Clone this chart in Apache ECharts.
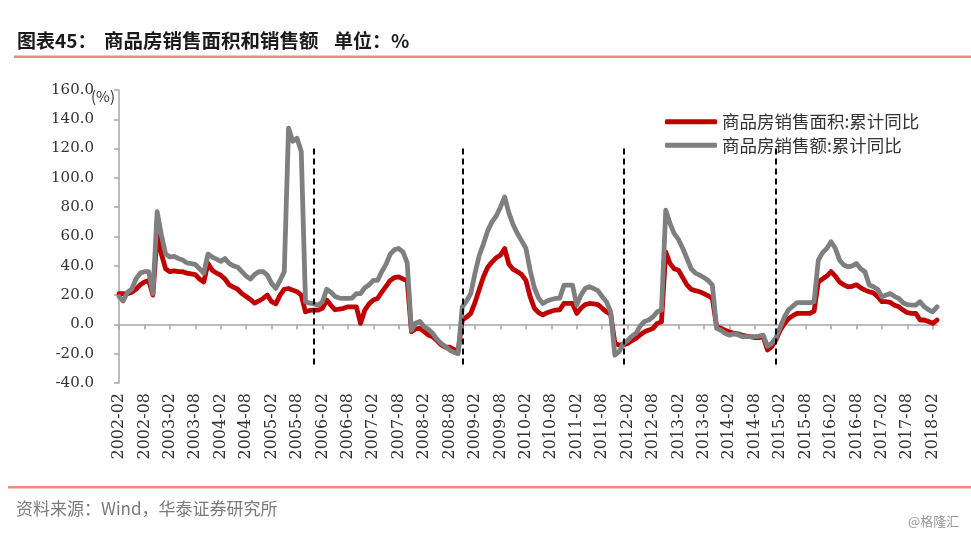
<!DOCTYPE html>
<html>
<head>
<meta charset="utf-8">
<script src="https://cdn.jsdelivr.net/npm/echarts@6/dist/echarts.min.js"></script>
<style>html,body{margin:0;padding:0;background:#fff}#c{width:971px;height:534px}</style>
</head>
<body>
<div id="c"></div>
<script>
// Categories: monthly from 2002-02 to 2018-03
const startYear = 2002, startMonth = 2, endYear = 2018, endMonth = 3;
const categories = [];
for (let y = startYear, m = startMonth; y < endYear || (y === endYear && m <= endMonth); ) {
  categories.push(y + '-' + (m < 10 ? '0' + m : '' + m));
  m++; if (m > 12) { m = 1; y++; }
}

// 商品房销售面积:累计同比 (%)
const areaYoY = [
  21, 21, 21, 22, 24, 27, 29, 30, 20, 61, 48,
  38, 36, 36.5, 36, 36, 35, 34.5, 34, 31, 29, 41.6, 37,
  35, 33.6, 31, 27, 25.5, 24, 21, 19, 17, 14.5, 16, 17.7,
  20, 15.5, 14, 20, 24, 24.5, 23.4, 22.3, 20, 8.6, 9.5, 9.8,
  9.8, 11, 16.6, 13, 10, 10.5, 11, 12, 12, 12, 0.7, 9.8,
  14, 16.6, 17.7, 22, 26, 30, 32, 32.5, 31, 30, -5, -3,
  -2.7, -5, -7.3, -8.4, -11, -14, -15.5, -15.5, -17, -18.6, 3, 5,
  7.5, 15, 24, 32.5, 39, 42.5, 45.5, 47.3, 51.8, 41, 37.5, 36,
  34, 30, 19, 11, 8, 6.4, 8, 9, 9.8, 10, 14.3, 14.3,
  14.3, 7.5, 11, 13.5, 14.3, 14, 13.5, 11, 8.6, 7, -13, -14,
  -14, -13, -11, -9.5, -7, -5, -3.9, -2.7, 0.7, 1.8, 49.5, 41.6,
  38, 37, 32, 27, 24, 23, 22.3, 21, 19.5, 17.7, -1.6, -2.5,
  -4, -5, -6, -6.5, -7.3, -8, -8.4, -9, -9, -8.4, -17.5, -15.2,
  -10.5, -4, 0.5, 4, 6, 7.5, 7.5, 7.5, 7.5, 9, 29, 31,
  33, 36, 33, 29, 27, 25.7, 26, 27, 25, 23.4, 22.3, 21.5,
  19, 15.5, 15.5, 15, 13, 12, 9.8, 8, 7.5, 7.5, 3, 3,
  2, 0.7, 3
];

// 商品房销售额:累计同比 (%)
const amountYoY = [
  19, 16, 22, 24, 31, 35, 36, 36, 21, 77, 61,
  48, 46, 46.5, 45, 44, 42, 41.5, 41, 38, 35, 48, 46,
  44.5, 43, 45, 41.6, 40, 39, 36, 33, 31, 34, 36, 36,
  33.6, 28, 24.5, 30, 36, 134, 125, 127, 118, 15.5, 14.5, 14,
  13, 15.5, 24, 22, 19, 18, 17.7, 17.7, 18, 21, 21, 25,
  27, 30, 30, 36, 41, 48, 51, 51.8, 49.5, 42, -4, 1,
  2, -1.6, -3.4, -6, -10, -13, -15, -17.5, -19, -20, 12, 16,
  21, 35, 47, 55, 64, 70, 74, 80, 87, 76, 68, 62,
  57, 52, 37, 25, 18, 14.3, 16, 17, 17.7, 18, 26.8, 26.8,
  26.8, 13.2, 20, 24.5, 25.7, 24.5, 23, 19, 15.5, 8.6, -21, -18.6,
  -13, -11, -8, -6, -1, 2, 3, 5.2, 8.6, 9.8, 78, 69,
  62, 58, 52, 45, 38, 35, 33.6, 32, 30, 26.8, -2.7, -4,
  -6, -7.3, -6.5, -7, -8.4, -8.4, -8.4, -8.4, -8, -7.3, -15, -13,
  -9, -2, 5, 10, 12.5, 14.8, 14.8, 14.8, 14.8, 15.5, 43.9, 49,
  51.8, 56.4, 52, 44, 40.5, 39.3, 40, 41.6, 38, 36, 27, 25.7,
  24, 18.9, 20, 21, 19, 17.7, 14.8, 13.5, 13.2, 13.2, 15.5, 12,
  10, 8.6, 12
];

// dashed divider positions (category) and their vertical extent (value)
const dividers = ['2005-12', '2008-11', '2012-01', '2015-01'];
const dividerRange = [120, -28];

const seriesNames = ['商品房销售面积:累计同比', '商品房销售额:累计同比'];
const yTicks = { min: -40, max: 160, interval: 20 };

const chart = echarts.init(document.getElementById('c'), null, { renderer: 'canvas' });
const serif = 'DejaVu Serif';
const cjk = '"Noto Sans CJK SC", "Noto Sans", sans-serif';
const axisGray = '#A6A6A6';

chart.setOption({
  animation: false,
  backgroundColor: '#ffffff',
  grid: { left: 119, right: 34, top: 90, bottom: 151, containLabel: false },
  legend: {
    data: seriesNames,
    orient: 'vertical',
    left: 660,
    top: 108,
    itemWidth: 52,
    itemHeight: 5,
    itemGap: 6,
    icon: 'roundRect',
    textStyle: { fontFamily: cjk, fontSize: 17.5, color: '#333' }
  },
  xAxis: [
    {
      type: 'category', data: categories, boundaryGap: false,
      axisLine: { onZero: true, lineStyle: { color: axisGray, width: 1.5 } },
      axisTick: { show: true, interval: 5, length: 5, lineStyle: { color: axisGray, width: 1.5 } },
      axisLabel: { show: false },
      splitLine: { show: false }
    },
    {
      type: 'category', data: categories, boundaryGap: false, position: 'bottom',
      axisLine: { show: false, onZero: false },
      axisTick: { show: false },
      axisLabel: { show: true, interval: 5, rotate: 90, margin: 10, fontFamily: serif, fontSize: 16, color: '#333' },
      splitLine: { show: false }
    }
  ],
  yAxis: {
    type: 'value', min: yTicks.min, max: yTicks.max, interval: yTicks.interval,
    axisLine: { show: true, lineStyle: { color: axisGray, width: 1.5 } },
    axisTick: { show: true, length: 5, lineStyle: { color: axisGray, width: 1.5 } },
    axisLabel: { formatter: v => v.toFixed(1), margin: 25, fontFamily: serif, fontSize: 15, color: '#333' },
    splitLine: { show: false }
  },
  series: [
    {
      name: seriesNames[0], type: 'line', data: areaYoY, xAxisIndex: 0,
      showSymbol: false, symbol: 'none', smooth: false,
      lineStyle: { color: '#C00000', width: 4.8, join: 'round', cap: 'round' },
      itemStyle: { color: '#C00000' },
      markLine: {
        silent: true, symbol: 'none', label: { show: false },
        lineStyle: { color: '#000', type: [6, 4], width: 2 },
        data: dividers.map(c => [{ coord: [c, dividerRange[0]] }, { coord: [c, dividerRange[1]] }])
      }
    },
    {
      name: seriesNames[1], type: 'line', data: amountYoY, xAxisIndex: 0,
      showSymbol: false, symbol: 'none', smooth: false,
      lineStyle: { color: '#7F7F7F', width: 4.8, join: 'round', cap: 'round' },
      itemStyle: { color: '#7F7F7F' }
    }
  ],
  graphic: [
    { type: 'text', left: 17, top: 31, style: { text: '图表45：', font: 'bold 19px ' + cjk, fill: '#1a1a1a' } },
    { type: 'text', left: 104, top: 31, style: { text: '商品房销售面积和销售额', font: 'bold 19.5px ' + cjk, fill: '#1a1a1a' } },
    { type: 'text', left: 334, top: 31, style: { text: '单位：%', font: 'bold 19px ' + cjk, fill: '#1a1a1a' } },
    { type: 'rect', shape: { x: 14, y: 55.5, width: 957, height: 2.5 }, style: { fill: '#EE8A7E' } },
    { type: 'text', left: 91, top: 89, style: { text: '(%)', font: '15px ' + cjk, fill: '#333' } },
    { type: 'rect', shape: { x: 8, y: 486, width: 963, height: 2.5 }, style: { fill: '#EE8A7E' } },
    { type: 'text', left: 16, top: 500, style: { text: '资料来源：Wind，华泰证券研究所', font: '17px ' + cjk, fill: '#7a7a7a' } },
    { type: 'text', left: 908, top: 515, style: { text: '@格隆汇', font: '13px ' + cjk, fill: '#9a9a9a' } }
  ]
});
</script>
</body>
</html>
